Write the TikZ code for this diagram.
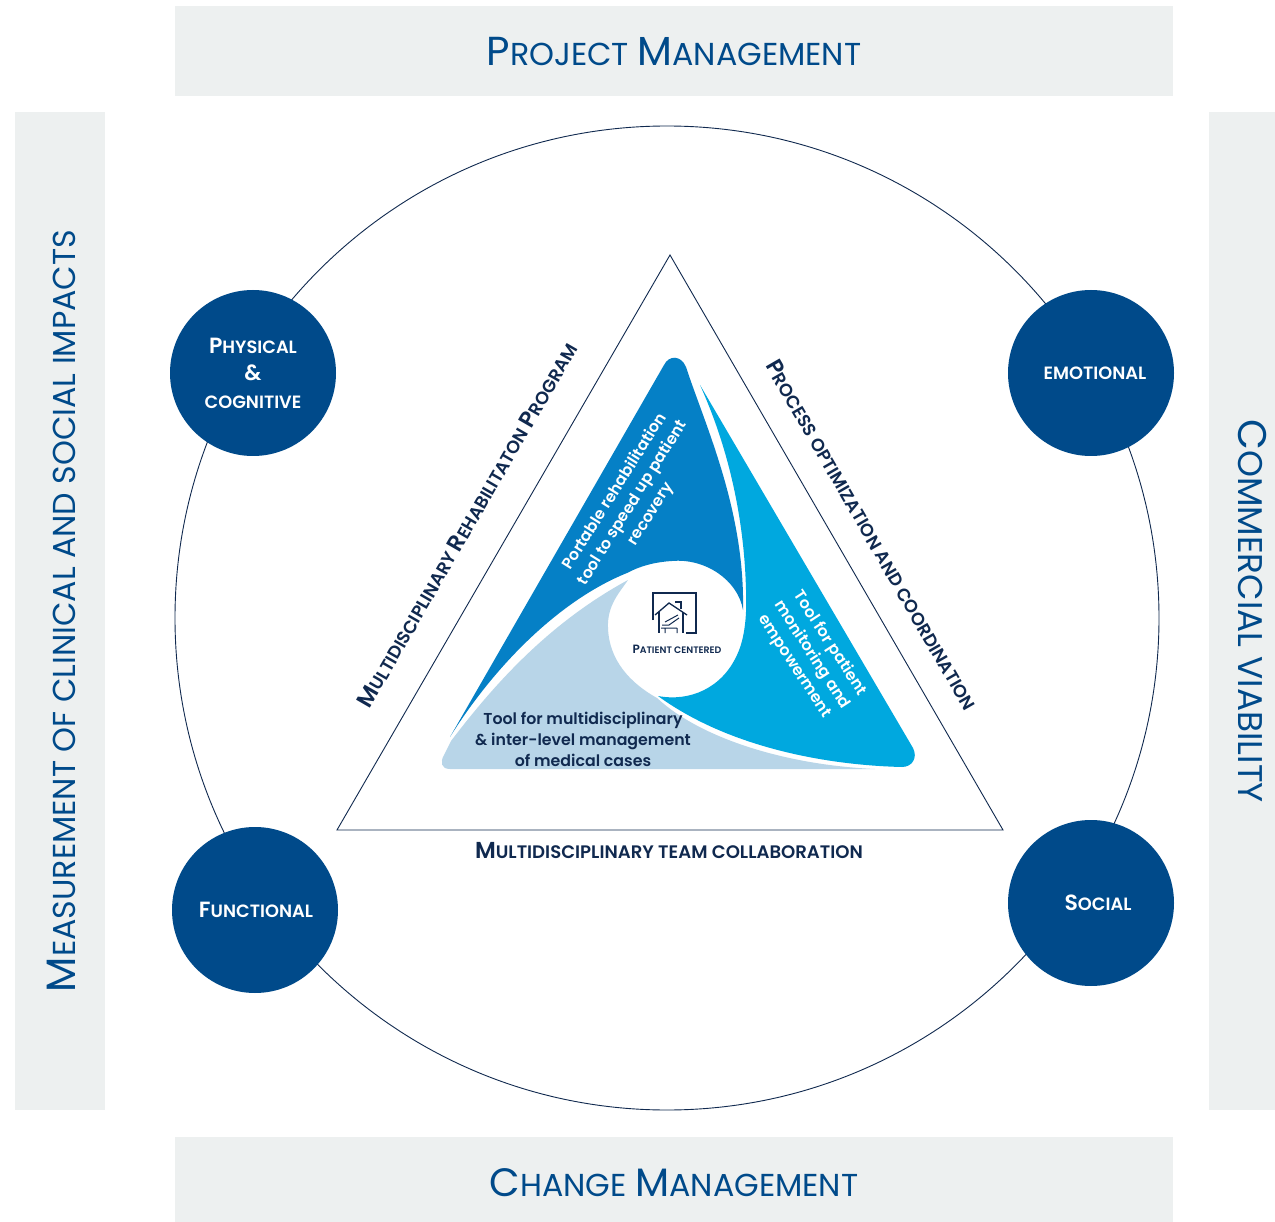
\documentclass[tikz,border=0pt]{standalone}
\usepackage{fontspec}
\setmainfont{Poppins}
\newfontfamily\semi{Poppins SemiBold}
\definecolor{navy}{HTML}{004A8A}
\definecolor{ink}{HTML}{10294F}
\definecolor{barcol}{HTML}{EDF0F0}
\definecolor{midblue}{HTML}{0580C6}
\definecolor{cyanblue}{HTML}{00A8DF}
\definecolor{paleblue}{HTML}{B8D5E8}
\newcommand\Fz[2]{{\fontsize{#1}{#1}\selectfont #2}}
\tikzset{
  x=1pt,y=-1pt,
  bar/.style={fill=barcol,draw=none},
  bartext/.style={text=navy,inner sep=0pt,font=\fontsize{31.7}{33}\selectfont},
  lens/.style={circle,fill=navy,minimum size=166pt,inner sep=0pt,text=white,align=center,font=\semi\fontsize{17.8}{27.5}\selectfont},
  sidetext/.style={text=ink,inner sep=0pt,font=\semi\fontsize{17.8}{18}\selectfont},
  intext/.style={inner sep=0pt,align=center,font=\semi\fontsize{15.8}{21}\selectfont},
  thin line/.style={draw=ink,line width=0.9pt},
  icon/.style={draw=ink,line width=1.3pt,line join=miter},
}
\begin{document}
\begin{tikzpicture}
\useasboundingbox (0,0) rectangle (1275,1222);
\fill[white] (0,0) rectangle (1275,1222);
% bars
\path[bar] (175,6) rectangle (1173,96);
\path[bar] (175,1137) rectangle (1173,1222);
\path[bar] (15,112) rectangle (105,1110);
\path[bar] (1209,112) rectangle (1275,1110);
\node[bartext] (tProject) at (674,52) {\Fz{40.5}{P}ROJECT \Fz{40.5}{M}ANAGEMENT};
\node[bartext] (tChange) at (674,1183) {\Fz{39.6}{C}HANGE \Fz{39.6}{M}ANAGEMENT};
\node[bartext,rotate=90] (tMeasure) at (61,611) {\Fz{41}{M}EASUREMENT OF CLINICAL AND SOCIAL IMPACTS};
\node[bartext,rotate=-90,font=\fontsize{34.3}{36}\selectfont] (tViability) at (1252,611) {\Fz{40}{C}OMMERCIAL VIABILITY};
% big circle and triangle
\draw[thin line] (667,618) circle[radius=492];
\draw[thin line] (670,255) -- (1003,830) -- (337,830) -- cycle;
% inner regions
\fill[midblue] (450,737) -- (664,365) .. controls (669,355) and (681,355) .. (686,367)
  .. controls (705,425) and (745,510) .. (743,610)
  .. controls (738,580) and (705,558) .. (672,561)
  .. controls (655,562) and (640,566) .. (627,573)
  .. controls (560,600) and (495,665) .. (450,737) -- cycle;
\fill[cyanblue] (700,385) -- (913,748) .. controls (918,758) and (912,767) .. (902,767)
  .. controls (820,765) and (725,745) .. (658,696)
  .. controls (690,702) and (722,688) .. (737,655)
  .. controls (745,638) and (747,615) .. (746,590)
  .. controls (744,510) and (725,440) .. (700,385) -- cycle;
\fill[paleblue] (628,580) .. controls (620,592) and (607,605) .. (608,628)
  .. controls (609,660) and (630,683) .. (657,698)
  .. controls (700,738) and (785,765) .. (875,769)
  -- (450,769) .. controls (441,769) and (440,762) .. (444,755) -- (451,741)
  .. controls (490,690) and (545,625) .. (628,580) -- cycle;
% icon
\draw[icon] (653,620) -- (653,593) -- (696,593) -- (696,633) -- (686,633);
\draw[icon] (655,615) -- (669,603) -- (687,615);
\draw[icon] (659,612) -- (659,633) (683,612) -- (683,633);
\draw[icon] (676,603) -- (676,602) -- (681,602) -- (681,609);
\draw[draw=ink,line width=1pt] (661,628) -- (677,628) (662,625) -- (669,625) -- (679,618) (665,622) -- (678,615) (665,628) -- (665,633) (677,628) -- (677,633);
\node[inner sep=0pt,text=ink,font=\semi\fontsize{9.4}{11}\selectfont] (tPatient) at (677,649) {\Fz{12}{P}ATIENT CENTERED};
% inner texts
\node[intext,text=white,rotate=58] (tPortable) at (633,503) {Portable rehabilitation\\tool to speed up patient\\recovery};
\node[intext,text=white,rotate=-57] (tMonitor) at (812,655) {Tool for patient\\monitoring and\\empowerment};
\node[intext,text=ink] (tTool) at (583,739) {Tool for multidisciplinary\\\& inter-level management\\of medical cases};
% side texts
\node[sidetext,rotate=60] (tRehab) at (467,525) {\Fz{22.8}{M}ULTIDISCIPLINARY \Fz{22.8}{R}EHABILITATON \Fz{22.8}{P}ROGRAM};
\node[sidetext,rotate=-60] (tProcess) at (872,535) {\Fz{22.8}{P}ROCESS OPTIMIZATION AND COORDINATION};
\node[sidetext,font=\semi\fontsize{18.1}{19}\selectfont] (tTeam) at (669,850) {\Fz{23.1}{M}ULTIDISCIPLINARY TEAM COLLABORATION};
% lens circles
\node[lens] (physical) at (253,373) {\Fz{22}{P}HYSICAL\\\Fz{22}{\&}\\COGNITIVE};
\node[lens] (emotional) at (1091,373) {\kern8pt EMOTIONAL};
\node[lens] (functional) at (255,910) {\kern2pt\Fz{22}{F}UNCTIONAL};
\node[lens] (social) at (1091,903) {\kern14pt\Fz{22}{S}OCIAL};
\end{tikzpicture}
\end{document}
